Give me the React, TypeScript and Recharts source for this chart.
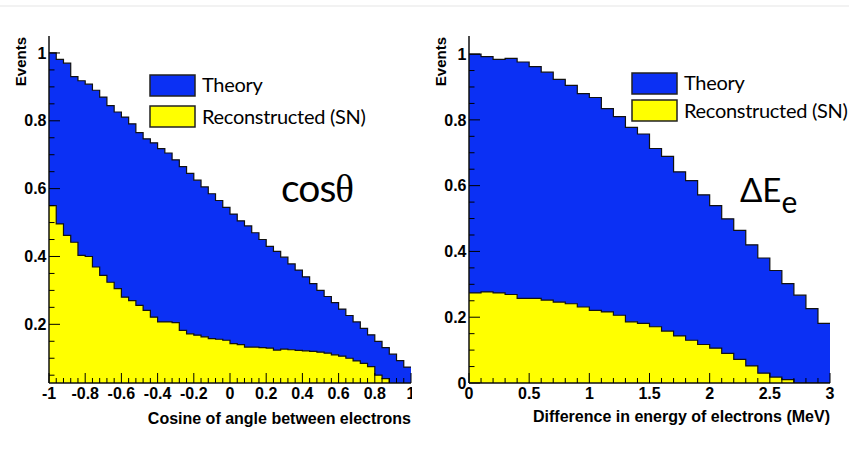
import { AreaChart, Area, XAxis, YAxis } from "recharts";

// cos(theta) histogram: 50 bins on [-1, 1]
const cosTheory = [
  1.0, 0.981, 0.97, 0.93, 0.918, 0.908, 0.89, 0.87, 0.845, 0.826,
  0.811, 0.791, 0.765, 0.747, 0.735, 0.718, 0.705, 0.685, 0.665, 0.645,
  0.625, 0.605, 0.585, 0.565, 0.545, 0.525, 0.505, 0.49, 0.47, 0.45,
  0.43, 0.415, 0.398, 0.378, 0.36, 0.34, 0.32, 0.3, 0.282, 0.264,
  0.245, 0.226, 0.207, 0.188, 0.169, 0.15, 0.131, 0.112, 0.093, 0.074,
];
const cosReco = [
  0.55, 0.496, 0.462, 0.442, 0.403, 0.4, 0.369, 0.344, 0.324, 0.305,
  0.28, 0.27, 0.256, 0.241, 0.221, 0.207, 0.207, 0.205, 0.182, 0.172,
  0.168, 0.163, 0.158, 0.156, 0.153, 0.143, 0.14, 0.133, 0.133, 0.131,
  0.13, 0.124, 0.127, 0.125, 0.123, 0.122, 0.12, 0.118, 0.115, 0.11,
  0.106, 0.1, 0.092, 0.085, 0.075, 0.05, 0.04, 0, 0, 0,
];

// energy difference histogram: 30 bins on [0, 3] MeV
const dETheory = [
  1.0, 0.992, 0.984, 0.987, 0.976, 0.962, 0.945, 0.923, 0.905, 0.88,
  0.868, 0.834, 0.81, 0.777, 0.757, 0.713, 0.689, 0.642, 0.615, 0.572,
  0.539, 0.499, 0.464, 0.42, 0.38, 0.342, 0.302, 0.267, 0.226, 0.181,
];
const dEReco = [
  0.274, 0.277, 0.274, 0.269, 0.257, 0.257, 0.252, 0.246, 0.241, 0.231,
  0.221, 0.216, 0.206, 0.186, 0.181, 0.171, 0.158, 0.143, 0.13, 0.117,
  0.106, 0.09, 0.072, 0.052, 0.03, 0.018, 0.01, 0, 0, 0,
];

const cosXLabels = [-1, -0.8, -0.6, -0.4, -0.2, 0, 0.2, 0.4, 0.6, 0.8, 1];
const cosYLabels = [0.2, 0.4, 0.6, 0.8, 1];
const dEXLabels = [0, 0.5, 1, 1.5, 2, 2.5, 3];
const dEYLabels = [0, 0.2, 0.4, 0.6, 0.8, 1];

const BLUE = "#0b30f4";
const YELLOW = "#ffff00";
const FONT = "'Liberation Sans', Arial, sans-serif";
const TEXT_FONT = "Lato, 'Open Sans', sans-serif";

const grid = (lo: number, step: number, n: number) =>
  Array.from({ length: n }, (_, i) => +(lo + i * step).toFixed(4));

function histRows(lo: number, width: number, theory: number[], reco: number[]) {
  const rows = theory.map((t, i) => ({ x: +(lo + i * width).toFixed(4), theory: t, reco: reco[i] }));
  rows.push({ x: +(lo + theory.length * width).toFixed(4), theory: theory[theory.length - 1], reco: reco[reco.length - 1] });
  return rows;
}

const near = (list: number[], v: number) => list.some((l) => Math.abs(l - v) < 1e-6);
const fmt = (v: number) => String(+v.toFixed(2));

function YTick(props: any) {
  const { x, y, payload, labels } = props;
  const major = near(labels, payload.value);
  const ax = x + 2.5;
  return (
    <g>
      <line x1={ax} x2={ax + (major ? 11 : 5.5)} y1={y} y2={y} stroke="#000" strokeWidth={1} />
      {major && (
        <text x={x} y={y} dy={5.7} textAnchor="end" fontFamily={FONT} fontWeight="bold" fontSize={16} fill="#000">
          {fmt(payload.value)}
        </text>
      )}
    </g>
  );
}

function XTick(props: any) {
  const { x, y, payload, labels } = props;
  const major = near(labels, payload.value);
  return (
    <g>
      <line x1={x} x2={x} y1={y} y2={y - (major ? 10 : 5)} stroke="#000" strokeWidth={1} />
      {major && (
        <text x={x} y={y} dy={16} textAnchor="middle" fontFamily={FONT} fontWeight="bold" fontSize={16} fill="#000">
          {fmt(payload.value)}
        </text>
      )}
    </g>
  );
}

function Hist({ rows, xDomain, yDomain, xTicks, yTicks, xLabels, yLabels, width, right }: any) {
  return (
    <AreaChart width={width} height={462} data={rows} margin={{ top: 36, right, bottom: 0, left: 0 }}>
      <XAxis type="number" dataKey="x" domain={xDomain} allowDataOverflow ticks={xTicks} interval={0}
        height={462 - 383} tickSize={0} tickMargin={0} tickLine={false}
        axisLine={{ stroke: "#111", strokeWidth: 1.5 }}
        tick={(p: any) => <XTick {...p} labels={xLabels} />} />
      <XAxis xAxisId="top" orientation="top" type="number" dataKey="x" domain={xDomain} allowDataOverflow
        height={0} tick={false} tickLine={false} axisLine={{ stroke: "#888" }} />
      <YAxis type="number" domain={yDomain} allowDataOverflow ticks={yTicks} interval={0}
        width={49} tickSize={0} tickMargin={2.5} tickLine={false}
        axisLine={{ stroke: "#111", strokeWidth: 1.5 }}
        tick={(p: any) => <YTick {...p} labels={yLabels} />} />
      <YAxis yAxisId="right" orientation="right" type="number" domain={yDomain} allowDataOverflow
        width={0} tick={false} tickLine={false} axisLine={{ stroke: "#888" }} />
      <Area type="stepAfter" dataKey="theory" stroke="#111" strokeWidth={1.2} fill={BLUE} fillOpacity={1}
        dot={false} activeDot={false} isAnimationActive={false} />
      <Area type="stepAfter" dataKey="reco" stroke="#111" strokeWidth={1.2} fill={YELLOW} fillOpacity={1}
        dot={false} activeDot={false} isAnimationActive={false} />
    </AreaChart>
  );
}

function Legend({ x, y, gap }: { x: number; y: number; gap: number }) {
  return (
    <g>
      <rect x={x} y={y} width={45} height={21} fill={BLUE} stroke="#222" strokeWidth={1.5} />
      <rect x={x} y={y + gap} width={45} height={21} fill={YELLOW} stroke="#222" strokeWidth={1.5} />
      <text x={x + 52} y={y + 17} fontFamily={TEXT_FONT} fontSize={20} letterSpacing={-0.3} fill="#000">Theory</text>
      <text x={x + 52} y={y + gap + 17.5} fontFamily={TEXT_FONT} fontSize={20} letterSpacing={-0.3} fill="#000">Reconstructed (SN)</text>
    </g>
  );
}

export default function App() {
  const cosRows = histRows(-1, 0.04, cosTheory, cosReco);
  const dERows = histRows(0, 0.1, dETheory, dEReco);

  return (
    <div style={{ position: "absolute", left: 0, top: 0, width: 849, height: 462, background: "#fff" }}>
      <div style={{ position: "absolute", left: 0, top: 5, width: 849, height: 2, background: "#f2f2f2" }} />
      <div style={{ position: "absolute", left: 0, top: 0, width: 412, height: 462, overflow: "hidden" }}>
        <Hist rows={cosRows} xDomain={[-1, 1]} yDomain={[0.027, 1.05]}
          xTicks={grid(-1, 0.04, 51)} yTicks={grid(0.05, 0.05, 20)}
          xLabels={cosXLabels} yLabels={cosYLabels} width={420} right={9} />
      </div>
      <div style={{ position: "absolute", left: 420, top: 0, width: 429, height: 462 }}>
        <Hist rows={dERows} xDomain={[0, 3]} yDomain={[0, 1.055]}
          xTicks={grid(0, 0.1, 31)} yTicks={grid(0, 0.05, 21)}
          xLabels={dEXLabels} yLabels={dEYLabels} width={429} right={19} />
      </div>
      <svg width={849} height={462} style={{ position: "absolute", left: 0, top: 0, pointerEvents: "none" }}>
        <text transform="translate(26,37) rotate(-90)" textAnchor="end" fontFamily={FONT} fontWeight="bold" fontSize={15}>Events</text>
        <text transform="translate(446,37) rotate(-90)" textAnchor="end" fontFamily={FONT} fontWeight="bold" fontSize={15}>Events</text>
        <text x={411} y={424} textAnchor="end" fontFamily={FONT} fontWeight="bold" fontSize={16}>Cosine of angle between electrons</text>
        <text x={830} y={422} textAnchor="end" fontFamily={FONT} fontWeight="bold" fontSize={16}>Difference in energy of electrons (MeV)</text>
        <Legend x={150} y={75} gap={31} />
        <Legend x={632} y={73} gap={27} />
        <text x={281} y={202} fontFamily={TEXT_FONT} fontSize={39} letterSpacing={-1}>
          cos<tspan fontFamily="'Liberation Serif', serif" fontSize={39}>θ</tspan>
        </text>
        <text x={740} y={202} fontFamily={TEXT_FONT} fontSize={33}>
          ΔE<tspan dy={11} fontSize={30}>e</tspan>
        </text>
      </svg>
    </div>
  );
}
